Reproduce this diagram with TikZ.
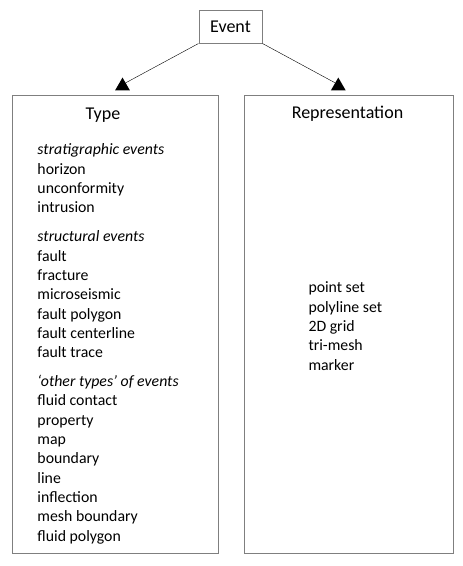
\documentclass[tikz,border=0pt]{standalone}
\usepackage{fontspec}
\setmainfont{Carlito}
\usetikzlibrary{positioning,shapes.geometric}
\definecolor{boxgray}{HTML}{7F7F7F}

\begin{document}
\begin{tikzpicture}[x=1pt,y=-1pt,every node/.style={align=left,inner sep=0pt},
  titlefont/.style={font=\fontsize{18}{21}\selectfont},
  listfont/.style={font=\fontsize{15.8}{19.3}\selectfont},
  tipmark/.style={regular polygon,regular polygon sides=3,fill=black,minimum size=17pt}]
\useasboundingbox (0,0) rectangle (463,566);
% top node and the two columns
\node[draw=boxgray,line width=1pt,minimum width=63pt,minimum height=33pt,titlefont] (event) at (230.5,26.5) {Event};
\node[draw=boxgray,line width=1pt,minimum width=206.5pt,minimum height=458pt,anchor=north west] (typebox) at (11.7,95) {};
\node[draw=boxgray,line width=1pt,minimum width=209pt,minimum height=458pt,right=25pt of typebox] (reprbox) {};
\node[tipmark,anchor=south] (tipl) at (122.5,90.5) {};
\node[tipmark,anchor=south] (tipr) at (338.3,90.5) {};
\draw (event.south west)--(tipl.north east);\draw (event.south east)--(tipr.north west);
% titles
\node[titlefont,anchor=base] (typetitle) at (103,119.3) {Type};
\node[titlefont,anchor=base] (reprtitle) at (347.5,118.3) {Representation};
% lists (anchored at the baseline of the last line)
\node[listfont,anchor=base west] (typelist) at (37.3,541) {\textit{stratigraphic events}\\horizon\\unconformity\\intrusion\\[9.7pt]
\textit{structural events}\\fault\\fracture\\microseismic\\fault polygon\\fault centerline\\fault trace\\[9.7pt]
\textit{‘other types’ of events}\\fluid contact\\property\\map\\boundary\\line\\inflection\\mesh boundary\\fluid polygon};
\node[listfont,anchor=base west] (reprlist) at (308.3,370) {point set\\polyline set\\2D grid\\tri-mesh\\marker};
\end{tikzpicture}
\end{document}
